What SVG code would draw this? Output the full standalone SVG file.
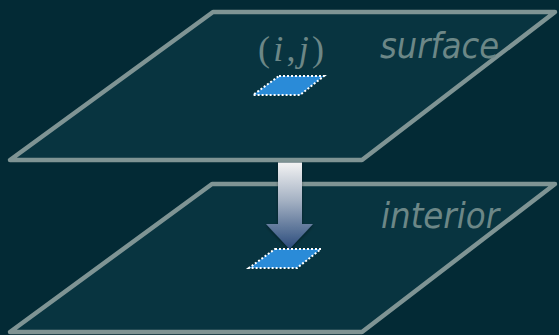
<svg xmlns="http://www.w3.org/2000/svg" width="559" height="335" viewBox="0 0 559 335">
<style>
.plane{fill:#083440;stroke:#7f9494;stroke-width:4.5;stroke-linejoin:round}
.cell{fill:#2a8bd8;stroke:#ffffff;stroke-width:2;stroke-dasharray:2 2}
.lbl{font-family:"DejaVu Sans Condensed","DejaVu Sans",sans-serif;font-style:italic;font-size:36px;fill:#6c8787}
.math{font-family:"Liberation Serif","DejaVu Serif",serif;font-size:36px;fill:#6c8787}
</style>
<defs>
<linearGradient id="ag" x1="0" y1="162" x2="0" y2="249" gradientUnits="userSpaceOnUse">
<stop offset="0" stop-color="#f4f4f4"/>
<stop offset="0.45" stop-color="#a3b0c2"/>
<stop offset="1" stop-color="#2a4b7c"/>
</linearGradient>
<filter id="sh" x="-30%" y="-10%" width="160%" height="130%">
<feDropShadow dx="0" dy="1.5" stdDeviation="1.5" flood-color="#000" flood-opacity="0.4"/>
</filter>
</defs>
<rect width="559" height="335" fill="#032a35"/>
<g id="interior">
<polygon class="plane" points="212,184 555,184 362,332 10,332"/>
<text class="lbl" x="381" y="228" textLength="118" lengthAdjust="spacingAndGlyphs">interior</text>
</g>
<g id="surface">
<polygon class="plane" points="213,12 555,12 362,160 10,160"/>
<text class="lbl" x="380" y="58" textLength="119" lengthAdjust="spacingAndGlyphs">surface</text>
<text class="math" x="258" y="61" textLength="66" lengthAdjust="spacing">(<tspan font-style="italic">i</tspan>,<tspan font-style="italic">j</tspan>)</text>
</g>
<g id="cell-surface">
<polygon class="cell" points="279,76 324,76 300,95 253,95"/>
</g>
<g id="connectors">
<path d="M278,162.5 H302 V224 H313 L289.5,249 L266,224 H278 Z" fill="url(#ag)" filter="url(#sh)"/>
</g>
<g id="cell-interior">
<polygon class="cell" points="275,249 321,249 297,268 249,268"/>
</g>
</svg>
